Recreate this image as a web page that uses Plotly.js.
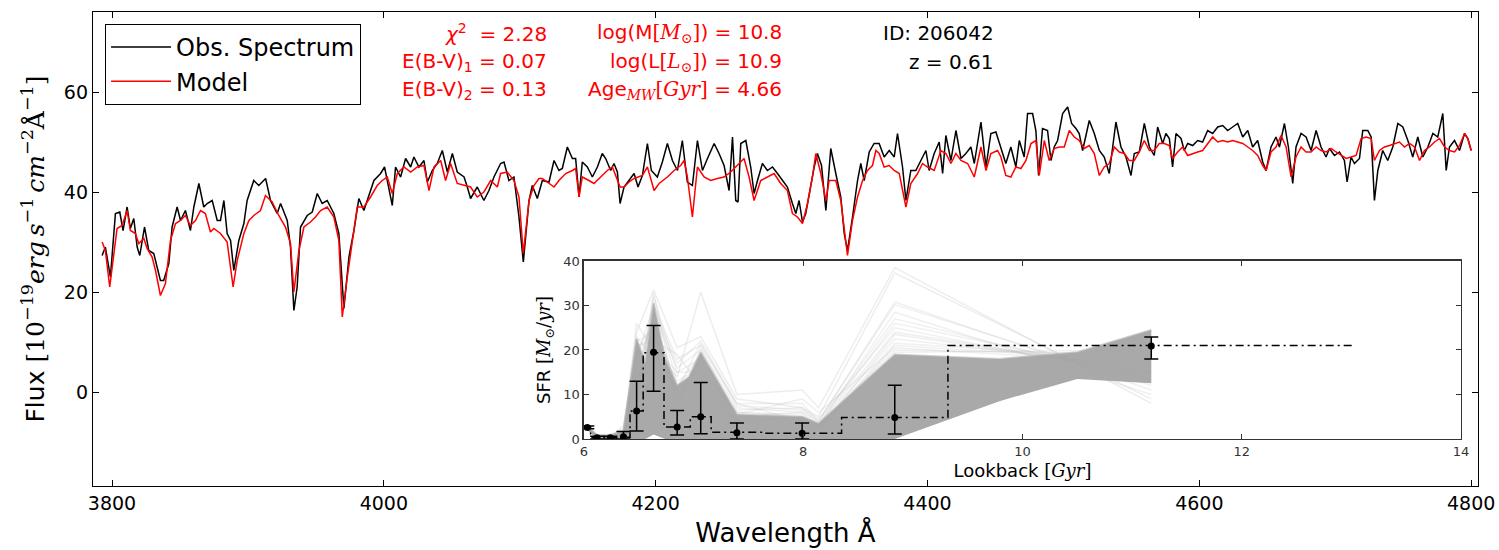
<!DOCTYPE html>
<html><head><meta charset="utf-8">
<script src="https://cdn.plot.ly/plotly-3.0.1.min.js"></script>
<style>html,body{margin:0;padding:0;background:#fff}#chart{width:1499px;height:550px}</style>
</head><body><div id="chart"></div>
<script>
// ---------- Observed spectrum (black) ----------
const WAVE_OBS = [
3792.7,3795.1,3798.8,3802.5,3805.7,3808.1,3811.1,3813.5,3816,3818.5,
3820.4,3823.9,3827,3830.7,3835.6,3838,3841.8,3844.2,3847.9,3850.4,
3854,3857.7,3860.2,3863.9,3867.5,3870,3873.7,3877.4,3879.8,3882.3,
3884.7,3887.2,3889.6,3893.3,3897,3899.4,3904.3,3908,3913,3916.6,
3921.5,3924,3928.9,3931.3,3933.8,3936.2,3938.7,3943.6,3947.3,3951,
3954.6,3958.3,3963.2,3966.9,3970.6,3974.3,3978,3981.6,3985.3,3990.2,
3992.7,3997.6,4000.5,4006.2,4008.6,4012.3,4016,4019.7,4022.1,4025.8,
4029.5,4032,4035.6,4039.3,4043,4046.7,4050.4,4054,4059,4061.4,
4063.8,4068.7,4073.6,4077.3,4081,4085.9,4088.4,4092,4095.7,4099.4,
4102.6,4106.8,4109.2,4112.9,4116.6,4121.5,4125.2,4128.8,4131.3,4135,
4138.7,4141.1,4143.6,4146,4149.7,4153.4,4157.1,4160.7,4163.2,4166.9,
4169.3,4171.8,4173.8,4176.7,4180.4,4184.1,4187,4190.2,4193.9,4196.8,
4201.2,4204.9,4208.6,4212.3,4216,4219.6,4223.3,4227,4230.7,4234.4,
4238.1,4243,4246.6,4250.3,4254,4256.5,4258.9,4260.6,4262.6,4266.3,
4269.9,4272.4,4274.9,4278.5,4282.2,4285.9,4289.6,4293.3,4296.9,4300.6,
4303.1,4305.5,4308,4310.4,4312.9,4316.6,4319,4322,4325.2,4328.8,
4332.5,4336.2,4338.7,4341.1,4344.8,4348.5,4350.9,4353.4,4357.1,4360.7,
4364.4,4368.1,4371.8,4375.5,4377.9,4381.6,4384.1,4387.7,4391.4,4395.1,
4398.8,4401.2,4404.9,4408.6,4411.1,4413.5,4417.2,4420.9,4424.6,4428.2,
4431.9,4434.4,4439.3,4443,4446.6,4450.3,4454,4457.6,4461.3,4465,
4467.5,4471.1,4473.6,4477.3,4479.7,4481.7,4484.6,4488.3,4490.8,4493.2,
4495.7,4499.4,4503.1,4506,4509.2,4511.6,4514.1,4519,4522.7,4526.4,
4530,4533.7,4538.6,4542.3,4546,4549.7,4552.1,4555.8,4559.5,4563.2,
4566.8,4569.3,4573,4575.4,4577.9,4580.3,4582.8,4586.5,4588.9,4591.4,
4595.1,4598.7,4602.4,4606.1,4609.8,4613.5,4617.2,4620.8,4624.5,4628.2,
4631.9,4635.6,4639.2,4642.9,4646.6,4649.1,4652.7,4656.4,4658.9,4662.6,
4665.5,4668.7,4671.1,4674.8,4678.5,4682.2,4685.9,4689.5,4693.2,4695.7,
4699.4,4703.1,4706.7,4708.7,4711.6,4714.1,4717.8,4720.2,4723.9,4726.4,
4728.8,4731.3,4734.9,4738.6,4742.3,4746,4749.7,4753.4,4757,4760.7,
4764.4,4768.1,4771.8,4775.4,4779.1,4781.6,4784,4787.7,4791.4,4795.1,
4797.5,4800];
const FLUX_OBS = [
27.3,29,23,35.7,36,32.3,37,32.7,34.7,29,
27.3,33,28.3,27.7,22.3,22.3,25.7,33,37,34.3,
36.3,32.3,37,41.7,37,37.7,38.3,34.3,34.3,38.3,
31.7,30.3,24.3,30.3,33.7,38.3,42.3,41.3,42.7,38.3,
35.7,37.7,34.3,29,16.3,21,33,35.3,36,39.7,
37.7,38.3,35.7,31.7,16.7,27,32.3,38.7,36.3,40.3,
42.3,43.7,45,37.3,45,43,46.7,45,47,45,
46.3,42,44.3,45.7,48.3,44,47.7,44,43,41,
38.7,41,38.3,40.3,43,45.7,46,42.3,43,35,
26,38.3,41.3,38.7,42.3,42,46.3,44.3,44.7,49,
46.7,46.7,39,46,45,43,45,47.7,46.7,44.3,
45.7,44,37.7,41,42.3,43.7,41,43.3,49.7,44.3,
43,46,49.7,46.3,44.3,50.3,42,41.3,50.3,44.3,
46.7,49.7,47.7,45.3,40.3,51,38.3,38,49.7,50.3,
45,39.7,42.3,45.7,44.3,45,43.7,42.3,41,37.7,
35.7,38.3,34,35.7,39.7,45,47.7,45.3,36.3,48.7,
43.7,39,31.7,28.3,35,42.3,45.7,42.3,48,49.7,
49.7,47,48.3,47,51.7,45,38.3,44.3,44.3,46.3,
48.3,44.3,47.7,50,43.7,51.3,46.3,52.3,46.7,47.7,
49,45.7,54,45,51.7,52,49,45.7,49,45,
50.3,47,55.7,55.7,52.3,43.3,52.7,52.3,46.3,49,
50.3,55.7,57,53.7,52.7,51.7,48.3,54.3,51.7,48.3,
47,43.7,54,49,47,43.3,47.7,48,53.7,49,
47.3,53,49.7,51.7,50.7,45,51.7,50.7,48.3,49.7,
49.3,50.3,50,52.3,51.7,53,53.3,52.3,53,53.7,
51,52.3,49,50.3,46,44.3,49,51,49,53.7,
49,41.7,49,51.7,51,48.3,52.3,49,47,48.7,
47.3,48,46.3,42,47,45.7,46.7,52.3,52.3,51,
38.3,44.3,48.3,46.3,49,53.7,53,50.3,47,51,
47,49,51.7,51,55.7,44.3,49,50.3,48.3,51.7,
50.7,48.3];

// ---------- Model spectrum (red) ----------
const WAVE_MODEL = [
3792.7,3795.1,3798.3,3803.7,3807.4,3811.1,3813.5,3817.2,3819.7,3823.4,
3825.8,3829.5,3832,3835.6,3839.3,3843,3846.7,3850.4,3854,3857.7,
3861.4,3865.1,3868.7,3872.4,3874.9,3879.8,3884.7,3889.1,3892.1,3897,
3900.7,3904.3,3909.2,3912.9,3917.8,3922.7,3927.6,3931.3,3933.8,3937.5,
3941.2,3946,3949.7,3953.4,3958.3,3963.2,3966.9,3969.4,3973.1,3976.7,
3980.4,3985.3,3990.2,3995.1,3998.8,4002.5,4006.2,4009.9,4014.8,4019.7,
4024.6,4029.5,4033.2,4036.9,4041.8,4045.4,4049.1,4054,4058.9,4063.8,
4068.7,4073.6,4078.6,4083.5,4085.9,4090.8,4095.7,4099.4,4102.6,4106.8,
4110.4,4114.1,4116.6,4120.3,4125.2,4128.8,4133.8,4138.7,4141.1,4143.6,
4146,4150.9,4154.6,4159.5,4164.4,4168.1,4171.8,4173.8,4176.7,4180.4,
4184.1,4190.2,4193.9,4198.8,4202.5,4208.6,4213.5,4218.4,4220.9,4223.3,
4227,4230.7,4235.6,4240.5,4245.4,4250.3,4255.2,4258.9,4262.6,4265,
4268.7,4272.4,4277.3,4282.2,4287.1,4292,4296.9,4300.6,4304.3,4308,
4311.7,4315.3,4317.8,4321.5,4325.2,4327.6,4332.5,4336.2,4341.1,4344.8,
4348.5,4352.2,4355.8,4359.5,4362,4364.4,4368.1,4371.8,4375.5,4379.2,
4384.1,4387.7,4392.7,4396.3,4400,4404.9,4409.8,4413.5,4417.2,4420.9,
4424.6,4429.5,4434.4,4439.3,4443,4446.6,4451.5,4454,4457.6,4461.3,
4465,4468.7,4472.4,4476.1,4479.7,4482.2,4485.9,4489.5,4493.2,4496.9,
4500.6,4504.3,4508,4511.6,4515.3,4519,4522.7,4526.4,4530,4533.7,
4537.4,4541.1,4544.8,4548.4,4552.1,4555.8,4559.5,4563.2,4566.8,4570.5,
4574.2,4577.9,4580.3,4584,4587.7,4591.4,4595.1,4598.7,4602.4,4606.1,
4609.8,4613.5,4617.2,4620.8,4624.5,4628.2,4631.9,4635.6,4639.2,4642.9,
4646.6,4649.1,4652.7,4656.4,4660.1,4663.8,4667.5,4671.1,4674.8,4678.5,
4682.2,4685.9,4689.5,4693.2,4696.9,4700.6,4704.3,4708,4711.6,4715.3,
4719,4722.7,4726.4,4728.8,4732.5,4736.2,4739.9,4743.5,4747.2,4750.9,
4754.6,4758.3,4762,4765.6,4769.3,4773,4776.7,4780.4,4784,4787.7,
4791.4,4795.1,4797.5,4800];
const FLUX_MODEL = [
30,28.3,21,32.7,33.3,36.3,32.3,31.7,29.7,30.7,
28.7,27,24.3,19.3,21.7,30.3,33.7,34.3,35.3,33.3,
34.3,36.3,35.7,32,32.7,31.7,30,21,26.3,31.7,
34.3,35.3,36.3,39.3,38,35.3,33,29.7,20,28.3,
33,34,35,36.3,37,35,30.3,15,23,30.3,
37,37,39,41.3,42.3,43,39.7,43.7,45,44,
45,45.3,40.3,45,46.3,42.3,45.7,41.7,41.3,41,
39,40,42.3,41,43.7,44,42.3,39,27.7,38.3,
41.3,42.7,42.7,42,41,42.3,43.7,44.3,44.7,39,
43,42.3,41.7,43,44.3,45,42.3,41,41,42,
42.7,43.3,45,40.3,41.7,43,44.3,45.3,46.3,43,
35,45,43,42.3,42.7,43,44,45,46,46.7,
43,38.3,42.3,43,43.7,41.7,40.3,35.7,35,33.7,
37.7,43,47.7,43.7,38.3,42.3,42.3,38.3,27.3,34.3,
39,42.3,44.3,45.3,48.3,47.7,45,45.3,44.3,43.7,
37,41.7,43.7,45.7,45,44.3,48.3,47.7,45.7,47.7,
46.3,45.7,43,49,44.3,47.7,48.3,47,43.3,43,
45,44.7,46.3,49.7,50.3,43.3,50.3,46.3,48.7,49,
49,52.3,51,50.3,48.7,49.3,47.7,43.3,45,45.7,
49,48,47.7,46.3,46.3,48,50.3,48.3,48.3,49.7,
49.7,49.3,46.7,48,49,47.3,47.7,48,48.3,49.7,
51,50,50.3,50,50.3,50,49.7,49,48.3,47.3,
45.3,44.3,48,49,51.3,49,43,47,49,48,
48,49,48.3,48,48.7,48,47.3,46.7,47,47.3,
50.7,51,50.7,46.3,48.3,49,49.3,49.7,50,49,
49.7,49,46.3,48.3,49,50,50.7,49,48.3,48,
49.3,51.7,50.7,48.3];

// ---------- Inset: star formation history ----------
const DRAW_T = [6.03, 6.12, 6.24, 6.36, 6.48, 6.635, 6.85, 7.065, 7.395, 7.99, 8.14, 8.835, 11.175];
const SFR_DRAWS = [
  [2.5, 0.5, 0.8, 1.0, 26, 20, 14, 33, 10, 11, 7, 38.5, 8],
  [2.5, 0.3, 0.5, 0.5, 24, 33.5, 20.5, 23, 9, 7, 5, 37.3, 9],
  [2.6, 0.4, 0.6, 2.0, 18, 30, 18, 21, 8, 8, 4, 30.8, 11],
  [2.4, 0.3, 0.3, 0.5, 15, 28, 16, 20, 7, 6, 4, 30.2, 12],
  [2.5, 0.6, 0.6, 3.0, 20, 26, 12, 19, 6.5, 7, 3.5, 27, 13],
  [2.5, 0.2, 0.4, 1.0, 10, 32, 15, 18, 6, 5, 3, 26, 14],
  [2.6, 0.3, 0.5, 0.5, 22, 24, 10, 17, 5, 6, 3, 24, 15],
  [2.4, 0.4, 0.3, 1.5, 12, 29, 17, 22, 8, 4, 2.5, 22.5, 16],
  [2.5, 0.5, 0.5, 1.0, 8, 31, 13, 16, 5.5, 9, 6, 20.5, 17],
  [2.5, 0.3, 0.4, 2.5, 21, 22, 19, 12, 4, 5, 3, 28.5, 10],
  [2.6, 0.4, 0.6, 1.0, 16, 27, 11, 21.5, 7.5, 6.5, 4.5, 25, 13.5],
  [2.4, 0.2, 0.3, 0.5, 6, 33, 8, 19, 4.5, 4, 2, 23.5, 15],
  [2.5, 0.3, 0.4, 0.8, 19, 25, 9, 14, 4, 3.5, 2, 21.5, 18],
  [2.5, 0.4, 0.5, 1.2, 14, 21, 15, 15, 6, 5.5, 3, 20, 19],
  [2.6, 0.3, 0.4, 0.7, 23, 18, 7, 20.5, 5, 4.5, 2.5, 19.5, 20],
  [2.4, 0.5, 0.6, 1.8, 11, 26, 12, 13, 3.5, 3, 1.5, 21, 17.5]
];
const CORE_T  = [6.0, 6.03, 6.12, 6.24, 6.36, 6.48, 6.56, 6.635, 6.74, 6.85, 6.96, 7.065, 7.395, 7.99, 8.14, 8.835, 9.79, 10.5, 11.175];
const CORE_HI = [2.9, 2.9, 0.9, 0.9, 1.8, 22.5, 17, 30.5, 18, 12, 14, 19.5, 5.5, 5.0, 3.5, 19, 18, 19.5, 24.5];
const CORE_LO = [2.1, 2.1, 0, 0, 0, 0, 0, 1, 0, 0, 0, 0, 0, 0, 0, 0, 8.5, 13.5, 12.5];
const BIN_EDGES = [6.0, 6.06, 6.18, 6.30, 6.42, 6.54, 6.73, 6.97, 7.16, 7.63, 8.35, 9.32, 13.03];
const BIN_SFR   = [2.7, 0.3, 0.3, 0.4, 6.3, 19.4, 2.7, 5.0, 1.5, 1.3, 4.8, 21.0, 21.0];
const POINT_T   = [6.03, 6.12, 6.24, 6.36, 6.48, 6.635, 6.85, 7.065, 7.395, 7.99, 8.835, 11.175];
const POINT_SFR = [2.6, 0.3, 0.3, 0.5, 6.3, 19.5, 2.7, 5.0, 1.4, 1.3, 4.8, 20.9];
const POINT_ERR_UP   = [0.3, 0.3, 0.3, 1.2, 6.7, 6.0, 3.7, 7.7, 2.2, 2.3, 7.3, 2.0];
const POINT_ERR_DOWN = [0.3, 0.3, 0.3, 0.5, 4.5, 8.8, 1.8, 3.8, 1.4, 1.3, 3.7, 2.9];

// ---------- Ticks & labels ----------
const X_TICKS = [3800, 4000, 4200, 4400, 4600, 4800];
const Y_TICKS = [0, 20, 40, 60];
const INSET_X_TICKS = [6, 8, 10, 12, 14];
const INSET_Y_TICKS = [0, 10, 20, 30, 40];
const FIT_LABELS_1 = ['<i>χ</i><sup>2</sup>\u00a0\u00a0= 2.28', 'E(B-V)<sub>1</sub> = 0.07', 'E(B-V)<sub>2</sub> = 0.13'];
const FIT_LABELS_2 = ['log(M<span style="font-family:DejaVu Serif">[<i>M</i><sub>⊙</sub>]</span>) = 10.8',
                      'log(L<span style="font-family:DejaVu Serif">[<i>L</i><sub>⊙</sub>]</span>) = 10.9',
                      'Age<sub><span style="font-family:DejaVu Serif"><i>MW</i></span></sub><span style="font-family:DejaVu Serif">[<i>Gyr</i>]</span> = 4.66'];
const ID_LABELS = ['ID: 206042', 'z = 0.61'];

const FONT = 'DejaVu Sans, Verdana, sans-serif';
const traces = [];

traces.push({x: WAVE_OBS, y: FLUX_OBS, type: 'scatter', mode: 'lines', name: 'Obs. Spectrum',
  line: {color: '#000000', width: 1.5}, xaxis: 'x', yaxis: 'y'});
traces.push({x: WAVE_MODEL, y: FLUX_MODEL, type: 'scatter', mode: 'lines', name: 'Model',
  line: {color: '#ff0000', width: 1.5}, xaxis: 'x', yaxis: 'y'});

// inset faint draws
SFR_DRAWS.forEach(function (vals, i) {
  traces.push({x: DRAW_T, y: vals, type: 'scatter', mode: 'lines', showlegend: false, hoverinfo: 'skip',
    line: {color: i < 2 ? 'rgba(215,215,215,0.45)' : 'rgba(185,185,185,0.22)', width: 1.5},
    xaxis: 'x2', yaxis: 'y2'});
});
// dense core band
traces.push({x: CORE_T, y: CORE_LO, type: 'scatter', mode: 'lines', showlegend: false, hoverinfo: 'skip',
  line: {color: 'rgba(0,0,0,0)', width: 0}, xaxis: 'x2', yaxis: 'y2'});
traces.push({x: CORE_T, y: CORE_HI, type: 'scatter', mode: 'lines', showlegend: false, hoverinfo: 'skip',
  fill: 'tonexty', fillcolor: 'rgba(162,162,162,0.92)', line: {color: 'rgba(175,175,175,0.6)', width: 2},
  xaxis: 'x2', yaxis: 'y2'});
// step (dash-dot)
traces.push({x: BIN_EDGES, y: BIN_SFR, type: 'scatter', mode: 'lines', showlegend: false,
  line: {color: '#000', width: 1.5, shape: 'hv', dash: '8px,4px,2px,4px'}, xaxis: 'x2', yaxis: 'y2'});
// points with error bars
traces.push({x: POINT_T, y: POINT_SFR, type: 'scatter', mode: 'markers', showlegend: false,
  marker: {color: '#000', size: 7},
  error_y: {type: 'data', symmetric: false, array: POINT_ERR_UP, arrayminus: POINT_ERR_DOWN,
            color: '#000', thickness: 1.5, width: 7},
  xaxis: 'x2', yaxis: 'y2'});

const annotations = [];
const rowY = [0.9557, 0.8945, 0.8354];
FIT_LABELS_1.forEach(function (t, i) {
  annotations.push({xref: 'paper', yref: 'paper', x: 0.3292, y: rowY[i], xanchor: 'right', yanchor: 'middle',
    text: t, showarrow: false, font: {family: FONT, size: 20, color: '#ff0000'}});
});
FIT_LABELS_2.forEach(function (t, i) {
  annotations.push({xref: 'paper', yref: 'paper', x: 0.4989, y: rowY[i], xanchor: 'right', yanchor: 'middle',
    text: t, showarrow: false, font: {family: FONT, size: 20, color: '#ff0000'}});
});
ID_LABELS.forEach(function (t, i) {
  annotations.push({xref: 'paper', yref: 'paper', x: 0.652, y: rowY[i], xanchor: 'right', yanchor: 'middle',
    text: t, showarrow: false, font: {family: FONT, size: 20, color: '#000'}});
});

const axisCommon = {ticks: 'inside', tickcolor: '#000', showline: true, linecolor: '#000',
  mirror: 'ticks', showgrid: false, zeroline: false};

const layout = {
  width: 1499, height: 550,
  margin: {l: 93, r: 21, t: 12, b: 64},
  paper_bgcolor: '#ffffff', plot_bgcolor: 'rgba(0,0,0,0)',
  font: {family: FONT, color: '#000', size: 19},
  showlegend: true,
  legend: {x: 0.0087, y: 0.975, xanchor: 'left', yanchor: 'top', bgcolor: '#fff', traceorder: 'normal',
    bordercolor: '#000', borderwidth: 1, font: {family: FONT, size: 24}, tracegroupgap: 0, itemwidth: 60},
  xaxis: Object.assign({}, axisCommon, {domain: [0, 1], anchor: 'y', range: [3786, 4805],
    tickmode: 'array', tickvals: X_TICKS, ticklen: 6, tickwidth: 1, linewidth: 1.2,
    tickfont: {size: 19}, title: {text: 'Wavelength Å', font: {size: 26}, standoff: 10}}),
  yaxis: Object.assign({}, axisCommon, {domain: [0, 1], anchor: 'x', range: [-18.8, 76],
    tickmode: 'array', tickvals: Y_TICKS, ticklen: 6, tickwidth: 1, linewidth: 1.2,
    tickfont: {size: 19},
    title: {text: 'Flux <span style="font-family:DejaVu Serif">[10<sup>−19</sup><i>erg</i>\u2009<i>s</i><sup>−1</sup>\u2009<i>cm</i><sup>−2</sup>Å<sup>−1</sup>]</span>',
      font: {size: 25}, standoff: 12}}),
  xaxis2: Object.assign({}, axisCommon, {domain: [0.3545, 0.9877], anchor: 'y2', range: [6, 14],
    tickmode: 'array', tickvals: INSET_X_TICKS, ticklen: 5, linecolor: '#333', tickcolor: '#333', linewidth: 1.5,
    tickfont: {size: 13, color: '#333'},
    title: {text: 'Lookback <span style="font-family:DejaVu Serif">[<i>Gyr</i>]</span>', font: {size: 18}, standoff: 6}}),
  yaxis2: Object.assign({}, axisCommon, {domain: [0.0992, 0.4747], anchor: 'x2', range: [0, 40],
    tickmode: 'array', tickvals: INSET_Y_TICKS, ticklen: 5, linecolor: '#333', tickcolor: '#333', linewidth: 1.5,
    tickfont: {size: 13, color: '#333'},
    title: {text: 'SFR <span style="font-family:DejaVu Serif">[<i>M</i><sub>⊙</sub>/<i>yr</i>]</span>', font: {size: 18}, standoff: 8}}),
  annotations: annotations
};

Plotly.newPlot('chart', traces, layout, {displayModeBar: false, staticPlot: true});
</script>
</body></html>
